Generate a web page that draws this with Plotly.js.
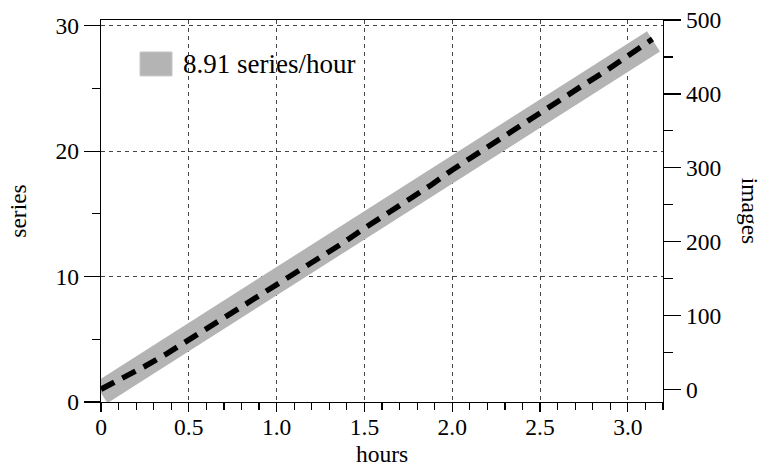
<!DOCTYPE html>
<html>
<head>
<meta charset="utf-8">
<script src="https://cdn.plot.ly/plotly-3.0.1.min.js"></script>
<style>html,body{margin:0;padding:0;background:#fff;}#chart{width:763px;height:467px;}</style>
</head>
<body>
<div id="chart"></div>
<script>
// Observed series count vs hours (dashed line)
const hours = [0, 0.06, 0.13, 0.25, 0.38, 0.5, 0.63, 0.75, 0.88, 1.0, 1.13, 1.25, 1.38, 1.5, 1.63, 1.75, 1.88, 2.0, 2.13, 2.25, 2.38, 2.5, 2.63, 2.75, 2.88, 3.0, 3.07, 3.14];
const series = [1.02, 1.45, 1.95, 2.85, 3.9, 4.95, 6.05, 7.15, 8.2, 9.25, 10.45, 11.55, 12.7, 13.85, 15.0, 16.15, 17.3, 18.5, 19.7, 20.8, 21.95, 23.05, 24.2, 25.3, 26.45, 27.55, 28.2, 28.93];
// Linear fit band (gray)
const fitHours = [0, 3.146];
const fitSeries = [0.72, 28.75];
const fitLabel = "8.91 series/hour";
// Axis ticks
const xTickVals = [0, 0.5, 1.0, 1.5, 2.0, 2.5, 3.0];
const xTickText = ["0", "0.5", "1.0", "1.5", "2.0", "2.5", "3.0"];
const yTickVals = [0, 10, 20, 30];
const y2TickVals = [0, 100, 200, 300, 400, 500];

const FONT = "Liberation Serif, Times New Roman, serif";
const FS = 23.5;
const GRAY = "rgb(180,180,180)";

const traces = [
  {x: fitHours, y: fitSeries, mode: "lines", line: {color: GRAY, width: 24}, showlegend: false, hoverinfo: "skip", name: fitLabel},
  {x: hours, y: series, mode: "lines", line: {color: "#000", width: 5.5, dash: "15px,9px"}, showlegend: false},
  {x: [0], y: [0], yaxis: "y2", mode: "markers", marker: {opacity: 0}, showlegend: false, hoverinfo: "skip"}
];

const layout = {
  width: 763, height: 467,
  margin: {l: 101, r: 100.3, t: 20, b: 64.5},
  paper_bgcolor: "#fff", plot_bgcolor: "#fff",
  font: {family: FONT, size: FS, color: "#000"},
  showlegend: false,
  xaxis: {
    range: [0, 3.2], showline: true, linecolor: "#000", linewidth: 1.2, mirror: true,
    ticks: "outside", ticklen: 9, tickwidth: 1.2, tickcolor: "#000",
    tickmode: "array", tickvals: xTickVals, ticktext: xTickText,
    showgrid: true, gridcolor: "#444", gridwidth: 1, griddash: "4px,4px",
    minor: {dtick: 0.1, ticks: "outside", ticklen: 7, tickwidth: 1.2, tickcolor: "#000", showgrid: false},
    zeroline: false, tickfont: {family: FONT, size: FS}, ticklabelstandoff: -5,
    title: {text: "hours", font: {family: FONT, size: FS}, standoff: 19}
  },
  yaxis: {
    range: [0, 30.45], showline: true, linecolor: "#000", linewidth: 1.2,
    ticks: "outside", ticklen: 16, tickwidth: 1.2, tickcolor: "#000",
    tickmode: "array", tickvals: yTickVals,
    showgrid: true, gridcolor: "#444", gridwidth: 1, griddash: "4px,4px",
    minor: {dtick: 5, ticks: "outside", ticklen: 8, tickwidth: 1.2, tickcolor: "#000", showgrid: false},
    zeroline: false, tickfont: {family: FONT, size: FS},
    title: {text: "series", font: {family: FONT, size: FS}, standoff: 22}
  },
  yaxis2: {
    overlaying: "y", side: "right", range: [-16.9, 500],
    showline: true, linecolor: "#000", linewidth: 1.2,
    ticks: "outside", ticklen: 17, tickwidth: 1.2, tickcolor: "#000",
    tickmode: "array", tickvals: y2TickVals,
    minor: {dtick: 50, ticks: "outside", ticklen: 9, tickwidth: 1.2, tickcolor: "#000", showgrid: false},
    showgrid: false, zeroline: false, tickfont: {family: FONT, size: FS}
  },
  shapes: [
    {type: "rect", xref: "paper", yref: "paper",
     x0: (140 - 101) / 561.7, x1: (172 - 101) / 561.7,
     y0: (402.5 - 76) / 382.5, y1: (402.5 - 52) / 382.5,
     fillcolor: GRAY, line: {color: "rgb(200,200,200)", width: 1}}
  ],
  annotations: [
    {xref: "paper", yref: "paper", x: (181 - 101) / 561.7, y: (402.5 - 64) / 382.5,
     xanchor: "left", yanchor: "middle", showarrow: false, text: fitLabel,
     font: {family: FONT, size: 27}},
    {xref: "paper", yref: "paper", x: (750 - 101) / 561.7, y: 0.5,
     xanchor: "center", yanchor: "middle", showarrow: false, text: "images", textangle: 90,
     font: {family: FONT, size: FS}}
  ]
};

Plotly.newPlot("chart", traces, layout, {staticPlot: true, displayModeBar: false});
</script>
</body>
</html>
